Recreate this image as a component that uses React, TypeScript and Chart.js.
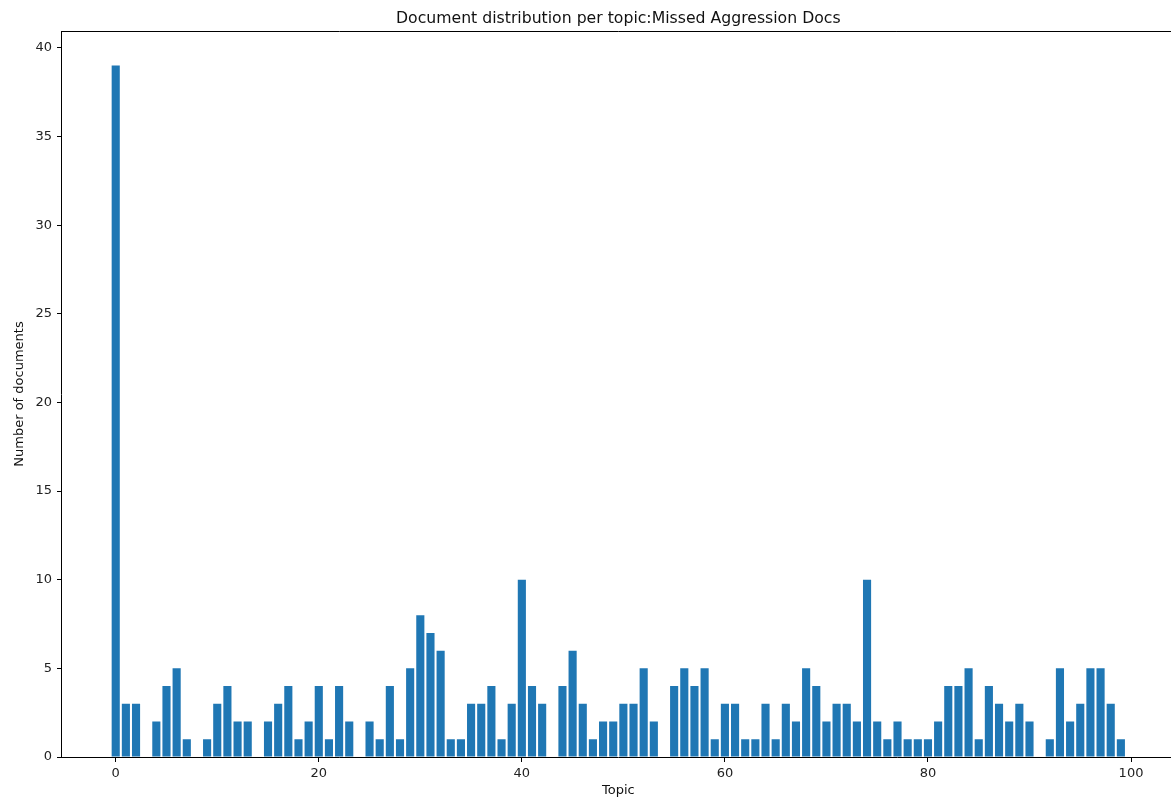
import React, { useEffect, useRef } from "react";
import { Chart, registerables } from "chart.js";

Chart.register(...registerables);

const chartTitle = "Document distribution per topic:Missed Aggression Docs";
const xAxisLabel = "Topic";
const yAxisLabel = "Number of documents";

const docCounts: number[] = [
  39, 3, 3, 0, 2, 4, 5, 1, 0, 1,
  3, 4, 2, 2, 0, 2, 3, 4, 1, 2,
  4, 1, 4, 2, 0, 2, 1, 4, 1, 5,
  8, 7, 6, 1, 1, 3, 3, 4, 1, 3,
  10, 4, 3, 0, 4, 6, 3, 1, 2, 2,
  3, 3, 5, 2, 0, 4, 5, 4, 5, 1,
  3, 3, 1, 1, 3, 1, 3, 2, 5, 4,
  2, 3, 3, 2, 10, 2, 1, 2, 1, 1,
  1, 2, 4, 4, 5, 1, 4, 3, 2, 3,
  2, 0, 1, 5, 2, 3, 5, 5, 3, 1,
];
const topics: number[] = docCounts.map((_, i) => i);

const xTickValues: number[] = [0, 20, 40, 60, 80, 100];
const yTickValues: number[] = [0, 5, 10, 15, 20, 25, 30, 35, 40];

const FONT = "'DejaVu Sans', sans-serif";

const framePlugin = {
  id: "frame",
  afterDraw(chart: any) {
    const { ctx, chartArea } = chart;
    ctx.save();
    ctx.strokeStyle = "#000";
    ctx.lineWidth = 1;
    ctx.beginPath();
    ctx.moveTo(chartArea.left, chartArea.top + 0.5);
    ctx.lineTo(chartArea.right, chartArea.top + 0.5);
    ctx.moveTo(chartArea.right - 0.5, chartArea.top);
    ctx.lineTo(chartArea.right - 0.5, chartArea.bottom);
    ctx.stroke();
    // title centered over the axes area
    ctx.fillStyle = "#111";
    ctx.font = `15.7px ${FONT}`;
    ctx.textAlign = "center";
    ctx.textBaseline = "alphabetic";
    ctx.fillText(chartTitle, (chartArea.left + chartArea.right) / 2, 23);
    ctx.restore();
  },
};

export default function App() {
  const ref = useRef<HTMLCanvasElement | null>(null);

  useEffect(() => {
    if (!ref.current) return;
    const chart = new Chart(ref.current, {
      type: "bar",
      data: {
        datasets: [
          {
            data: topics.map((t, i) => ({ x: t, y: docCounts[i] })),
            backgroundColor: "#1f77b4",
            borderWidth: 0,
            barPercentage: 0.8,
            categoryPercentage: 1.0,
          },
        ],
      },
      options: {
        animation: false,
        responsive: false,
        devicePixelRatio: 1,
        layout: { padding: { left: 0, right: 4.4, top: 31, bottom: 0 } },
        plugins: {
          legend: { display: false },
          tooltip: { enabled: false },
          title: { display: false },
        },
        scales: {
          x: {
            type: "linear",
            min: -5.39,
            max: 104.39,
            offset: false,
            afterBuildTicks: (s: any) => {
              s.ticks = xTickValues.map((v) => ({ value: v }));
            },
            afterFit: (s: any) => {
              s.height = 42;
            },
            ticks: {
              color: "#222",
              font: { family: FONT, size: 13 },
              padding: 4,
              maxRotation: 0,
              autoSkip: false,
            },
            grid: {
              display: true,
              offset: false,
              drawOnChartArea: false,
              drawTicks: true,
              tickLength: 5,
              tickColor: "#000",
              tickWidth: 1,
            },
            border: { display: true, color: "#000", width: 1 },
            title: {
              display: true,
              text: xAxisLabel,
              color: "#111",
              font: { family: FONT, size: 13 },
              padding: { top: 0, bottom: 0.2 },
            },
          },
          y: {
            type: "linear",
            min: 0,
            max: 40.95,
            afterBuildTicks: (s: any) => {
              s.ticks = yTickValues.map((v) => ({ value: v }));
            },
            afterFit: (s: any) => {
              s.width = 61;
            },
            ticks: {
              color: "#222",
              font: { family: FONT, size: 13 },
              padding: 5,
              autoSkip: false,
            },
            grid: {
              display: true,
              offset: false,
              drawOnChartArea: false,
              drawTicks: true,
              tickLength: 4,
              tickColor: "#000",
              tickWidth: 1,
            },
            border: { display: true, color: "#000", width: 1 },
            title: {
              display: true,
              text: yAxisLabel,
              color: "#111",
              font: { family: FONT, size: 13 },
              padding: { top: 12, bottom: 0 },
            },
          },
        },
      },
      plugins: [framePlugin],
    } as any);
    return () => chart.destroy();
  }, []);

  return (
    <div
      style={{
        position: "absolute",
        left: 0,
        top: 0,
        width: 1171,
        height: 799,
        overflow: "hidden",
        background: "#fff",
      }}
    >
      <canvas ref={ref} width={1180} height={799} style={{ display: "block" }} />
    </div>
  );
}
